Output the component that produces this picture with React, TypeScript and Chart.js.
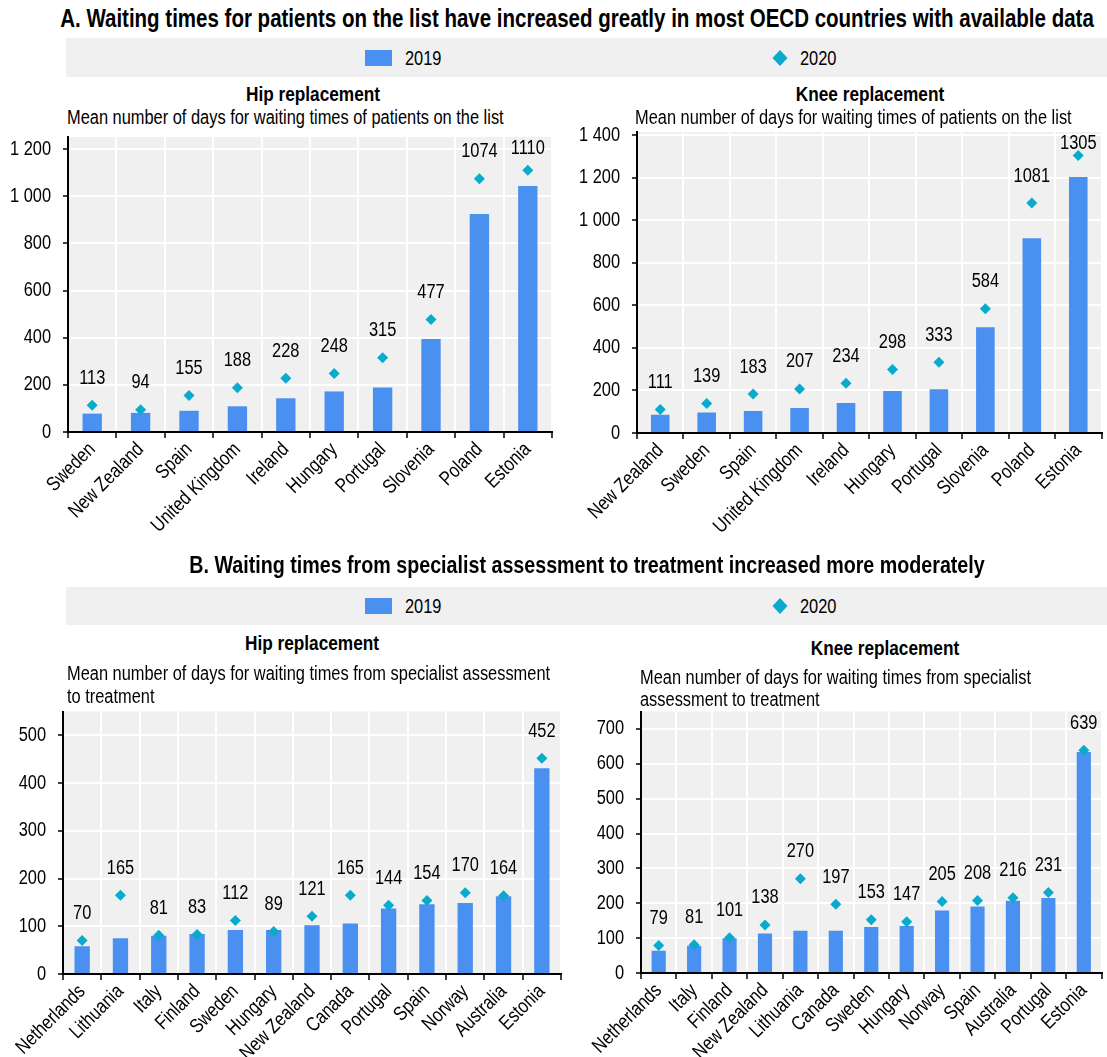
import React, { useEffect, useRef } from 'react';
import { Chart, registerables } from 'chart.js';

Chart.register(...registerables);

const FONT = '"Liberation Sans Narrow", "Arial Narrow", "Liberation Sans", Arial, sans-serif';
const NARROW = 0.82; // horizontal squeeze to imitate Arial Narrow
const BAR_COLOR = '#4a90f0';
const DIAMOND_COLOR = '#0aaacd';
const PLOT_BG = '#f0f0f0';

// Panel A – waiting times of patients on the list
const hipListCountries = ['Sweden', 'New Zealand', 'Spain', 'United Kingdom', 'Ireland', 'Hungary', 'Portugal', 'Slovenia', 'Poland', 'Estonia'];
const hipList2019 = [78, 81, 90, 109, 143, 172, 189, 394, 924, 1043];
const hipList2020 = [113, 94, 155, 188, 228, 248, 315, 477, 1074, 1110];
const hipListTicks = [0, 200, 400, 600, 800, 1000, 1200];

const kneeListCountries = ['New Zealand', 'Sweden', 'Spain', 'United Kingdom', 'Ireland', 'Hungary', 'Portugal', 'Slovenia', 'Poland', 'Estonia'];
const kneeList2019 = [86, 96, 104, 118, 141, 198, 206, 497, 915, 1204];
const kneeList2020 = [111, 139, 183, 207, 234, 298, 333, 584, 1081, 1305];
const kneeListTicks = [0, 200, 400, 600, 800, 1000, 1200, 1400];

// Panel B – from specialist assessment to treatment
const hipSpecCountries = ['Netherlands', 'Lithuania', 'Italy', 'Finland', 'Sweden', 'Hungary', 'New Zealand', 'Canada', 'Portugal', 'Spain', 'Norway', 'Australia', 'Estonia'];
const hipSpec2019 = [58, 75, 80, 84, 92, 92, 102, 106, 137, 146, 149, 163, 431];
const hipSpec2020 = [70, 165, 81, 83, 112, 89, 121, 165, 144, 154, 170, 164, 452];
const hipSpecTicks = [0, 100, 200, 300, 400, 500];

const kneeSpecCountries = ['Netherlands', 'Italy', 'Finland', 'New Zealand', 'Lithuania', 'Canada', 'Sweden', 'Hungary', 'Norway', 'Spain', 'Australia', 'Portugal', 'Estonia'];
const kneeSpec2019 = [64, 78, 100, 113, 121, 121, 132, 135, 179, 191, 207, 215, 634];
const kneeSpec2020 = [79, 81, 101, 138, 270, 197, 153, 147, 205, 208, 216, 231, 639];
const kneeSpecTicks = [0, 100, 200, 300, 400, 500, 600, 700];

const seriesLabels = ['2019', '2020'];

const fmt = (v: number) => String(v).replace(/\B(?=(\d{3})+(?!\d))/g, ' ');

function narrowContext(canvas: HTMLCanvasElement, k: number) {
  const ctx = canvas.getContext('2d') as any;
  if (!ctx || ctx.__narrow) return;
  ctx.__narrow = true;
  const origFill = ctx.fillText.bind(ctx);
  const origMeasure = ctx.measureText.bind(ctx);
  ctx.fillText = (text: string, x: number, y: number, maxWidth?: number) => {
    ctx.save();
    ctx.translate(x, y);
    ctx.scale(k, 1);
    if (maxWidth === undefined || maxWidth === null) origFill(text, 0, 0);
    else origFill(text, 0, 0, maxWidth / k);
    ctx.restore();
  };
  ctx.measureText = (text: string) => {
    const m = origMeasure(text);
    return {
      width: m.width * k,
      actualBoundingBoxAscent: m.actualBoundingBoxAscent,
      actualBoundingBoxDescent: m.actualBoundingBoxDescent,
      actualBoundingBoxLeft: m.actualBoundingBoxLeft * k,
      actualBoundingBoxRight: m.actualBoundingBoxRight * k,
      fontBoundingBoxAscent: m.fontBoundingBoxAscent,
      fontBoundingBoxDescent: m.fontBoundingBoxDescent,
    };
  };
}

const plotBgPlugin = {
  id: 'plotBg',
  beforeDraw(chart: any) {
    const { ctx, chartArea } = chart;
    if (!chartArea) return;
    ctx.save();
    ctx.fillStyle = PLOT_BG;
    ctx.fillRect(chartArea.left, chartArea.top, chartArea.right - chartArea.left, chartArea.bottom - chartArea.top);
    ctx.restore();
  },
};

const valueLabelPlugin = {
  id: 'valueLabels',
  afterDatasetsDraw(chart: any) {
    const { ctx, chartArea } = chart;
    const meta = chart.getDatasetMeta(1);
    const ds = chart.data.datasets[1];
    ctx.save();
    ctx.font = `20px ${FONT}`;
    ctx.fillStyle = '#000';
    ctx.textAlign = 'center';
    ctx.textBaseline = 'middle';
    meta.data.forEach((pt: any, i: number) => {
      const y = Math.max(pt.y - 27, chartArea.top + 11);
      ctx.fillText(String(ds.data[i]), pt.x, y);
    });
    ctx.restore();
  },
};

type PanelProps = {
  categories: string[];
  v2019: number[];
  v2020: number[];
  ticks: number[];
  max: number;
  left: number;
  top: number;
  width: number;
  height: number;
  yWidth: number;
  xHeight: number;
  padTop: number;
  padRight: number;
};

function Panel(p: PanelProps) {
  const ref = useRef<HTMLCanvasElement | null>(null);
  useEffect(() => {
    if (!ref.current) return;
    narrowContext(ref.current, NARROW);
    const chart = new Chart(ref.current, {
      type: 'bar',
      data: {
        labels: p.categories,
        datasets: [
          {
            type: 'bar',
            label: seriesLabels[0],
            data: p.v2019,
            backgroundColor: BAR_COLOR,
            barPercentage: 0.4,
            categoryPercentage: 1.0,
            order: 1,
          } as any,
          {
            type: 'line',
            label: seriesLabels[1],
            data: p.v2020,
            showLine: false,
            pointStyle: 'rectRot',
            pointRadius: 5.5,
            pointBackgroundColor: DIAMOND_COLOR,
            pointBorderColor: DIAMOND_COLOR,
            pointBorderWidth: 0,
            order: 0,
          } as any,
        ],
      },
      options: {
        animation: false,
        responsive: false,
        devicePixelRatio: 1,
        layout: { padding: { top: p.padTop, right: p.padRight, left: 0, bottom: 0 } },
        plugins: { legend: { display: false }, tooltip: { enabled: false } },
        scales: {
          x: {
            grid: { color: '#ffffff', lineWidth: 2, offset: true, tickColor: '#000', tickLength: 6, tickWidth: 1.5 },
            border: { color: '#000', width: 2 },
            ticks: {
              font: { family: FONT, size: 20 },
              color: '#000',
              minRotation: 45,
              maxRotation: 45,
              autoSkip: false,
              padding: 0,
            },
            afterFit: (s: any) => {
              s.height = p.xHeight;
              s.paddingLeft = 0;
              s.paddingRight = 0;
            },
          },
          y: {
            min: 0,
            max: p.max,
            grid: { color: '#ffffff', lineWidth: 2, tickColor: '#000', tickLength: 5, tickWidth: 1.5 },
            border: { color: '#000', width: 2 },
            ticks: {
              font: { family: FONT, size: 20 },
              color: '#000',
              padding: 12,
              callback: (v: any) => fmt(Number(v)),
            },
            afterBuildTicks: (axis: any) => {
              axis.ticks = p.ticks.map((v) => ({ value: v }));
            },
            afterFit: (s: any) => {
              s.width = p.yWidth;
              s.paddingTop = 0;
              s.paddingBottom = 0;
            },
          },
        },
      } as any,
      plugins: [plotBgPlugin, valueLabelPlugin],
    });
    return () => chart.destroy();
  }, []);
  return (
    <canvas
      ref={ref}
      width={p.width}
      height={p.height}
      style={{ position: 'absolute', left: p.left, top: p.top, width: p.width, height: p.height }}
    />
  );
}

const textBase: React.CSSProperties = {
  position: 'absolute',
  fontFamily: FONT,
  color: '#000',
  whiteSpace: 'nowrap',
};

function CenterText({ x, y, size, bold, children }: { x: number; y: number; size: number; bold?: boolean; children: React.ReactNode }) {
  return (
    <div
      style={{
        ...textBase,
        left: x - 700,
        width: 1400,
        top: y - 14,
        lineHeight: '28px',
        fontSize: size,
        fontWeight: bold ? 'bold' : 'normal',
        textAlign: 'center',
        transform: `scaleX(${NARROW})`,
        transformOrigin: 'center center',
      }}
    >
      {children}
    </div>
  );
}

function LeftText({ x, y, lineHeight, lines }: { x: number; y: number; lineHeight: number; lines: string[] }) {
  return (
    <div
      style={{
        ...textBase,
        left: x,
        top: y - lineHeight / 2,
        lineHeight: `${lineHeight}px`,
        fontSize: 20,
        transform: `scaleX(${NARROW})`,
        transformOrigin: 'left top',
      }}
    >
      {lines.map((l, i) => (
        <div key={i}>{l}</div>
      ))}
    </div>
  );
}

function LegendBand({ top, height }: { top: number; height: number }) {
  const cy = top + height / 2;
  const txt: React.CSSProperties = {
    ...textBase,
    top: cy - 12,
    lineHeight: '24px',
    fontSize: 20,
    transform: `scaleX(${NARROW})`,
    transformOrigin: 'left center',
  };
  return (
    <>
      <div style={{ position: 'absolute', left: 66, top, width: 1041, height, background: PLOT_BG }} />
      <div style={{ position: 'absolute', left: 365, top: cy - 8, width: 27, height: 16, background: BAR_COLOR }} />
      <div style={{ ...txt, left: 405 }}>{seriesLabels[0]}</div>
      <svg style={{ position: 'absolute', left: 772, top: cy - 8 }} width={16} height={16}>
        <polygon points="8,0 15.5,8 8,16 0.5,8" fill={DIAMOND_COLOR} />
      </svg>
      <div style={{ ...txt, left: 800 }}>{seriesLabels[1]}</div>
    </>
  );
}

export default function App() {
  return (
    <div style={{ position: 'absolute', left: 0, top: 0, width: 1107, height: 1057, background: '#fff', overflow: 'hidden' }}>
      <Panel categories={hipListCountries} v2019={hipList2019} v2020={hipList2020} ticks={hipListTicks} max={1251}
        left={0} top={130} width={560} height={425} yWidth={68} xHeight={123} padTop={7} padRight={8} />
      <Panel categories={kneeListCountries} v2019={kneeList2019} v2020={kneeList2020} ticks={kneeListTicks} max={1415}
        left={560} top={118} width={547} height={437} yWidth={77} xHeight={122} padTop={14} padRight={3} />
      <Panel categories={hipSpecCountries} v2019={hipSpec2019} v2020={hipSpec2020} ticks={hipSpecTicks} max={550}
        left={0} top={705} width={570} height={352} yWidth={63} xHeight={83} padTop={6.5} padRight={9} />
      <Panel categories={kneeSpecCountries} v2019={kneeSpec2019} v2020={kneeSpec2020} ticks={kneeSpecTicks} max={750}
        left={570} top={705} width={537} height={352} yWidth={71} xHeight={84} padTop={6.5} padRight={1} />

      <CenterText x={577} y={18} size={25} bold>
        A. Waiting times for patients on the list have increased greatly in most OECD countries with available data
      </CenterText>
      <LegendBand top={38} height={39} />
      <CenterText x={313} y={94} size={21} bold>Hip replacement</CenterText>
      <CenterText x={870} y={94} size={21} bold>Knee replacement</CenterText>
      <LeftText x={67} y={117} lineHeight={23} lines={['Mean number of days for waiting times of patients on the list']} />
      <LeftText x={635} y={117} lineHeight={23} lines={['Mean number of days for waiting times of patients on the list']} />

      <CenterText x={587} y={565} size={24} bold>
        B. Waiting times from specialist assessment to treatment increased more moderately
      </CenterText>
      <LegendBand top={587} height={38} />
      <CenterText x={312} y={643} size={21} bold>Hip replacement</CenterText>
      <CenterText x={885} y={648} size={21} bold>Knee replacement</CenterText>
      <LeftText x={67} y={673} lineHeight={23} lines={['Mean number of days for waiting times from specialist assessment', 'to treatment']} />
      <LeftText x={640} y={677} lineHeight={22} lines={['Mean number of days for waiting times from specialist', 'assessment to treatment']} />
    </div>
  );
}
